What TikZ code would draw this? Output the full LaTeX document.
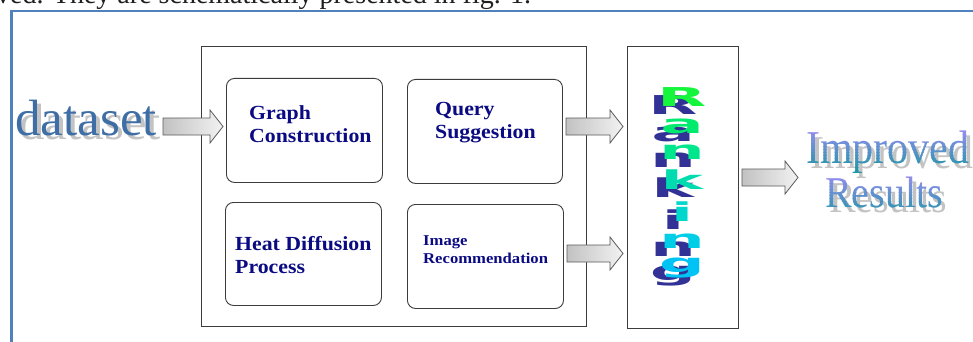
\documentclass[tikz,border=0pt]{standalone}
\usepackage{fontspec}
\setmainfont{Liberation Serif}
\newfontfamily\rankfont{DejaVu Sans}
\usetikzlibrary{calc}
\definecolor{framebl}{RGB}{79,129,189}
\definecolor{boxtxt}{RGB}{10,10,130}
\definecolor{edgecol}{RGB}{60,60,60}
\definecolor{dsblue}{RGB}{62,110,165}
\definecolor{shad}{RGB}{195,195,195}
\definecolor{rkshadow}{RGB}{50,50,150}
\definecolor{gradtop}{RGB}{150,140,240}
\definecolor{gradbot}{RGB}{30,150,165}
\definecolor{arrline}{RGB}{90,90,90}
\definecolor{rk1}{RGB}{20,245,60}
\definecolor{rk2}{RGB}{0,235,110}
\definecolor{rk3}{RGB}{0,230,140}
\definecolor{rk4}{RGB}{0,220,175}
\definecolor{rk5}{RGB}{0,215,205}
\definecolor{rk6}{RGB}{0,205,230}
\definecolor{rk7}{RGB}{0,195,245}
\tikzset{
  procbox/.style={draw=edgecol, line width=0.9pt, rounded corners=8pt, inner sep=0pt, anchor=north west},
  panel/.style={draw=edgecol, line width=0.9pt, inner sep=0pt, anchor=north west},
  boxlabel/.style={anchor=base west, inner sep=0pt, text=boxtxt, font=\fontsize{20}{22}\selectfont\bfseries},
  smalllabel/.style={anchor=base west, inner sep=0pt, text=boxtxt, font=\fontsize{15}{18}\selectfont\bfseries},
  rkletter/.style={inner sep=0pt, font=\fontsize{26}{26}\selectfont\rankfont\bfseries},
  blockarrow/.style={draw=arrline, line width=0.8pt, left color=black!24, right color=black!5},
  bigword/.style={anchor=base west, inner sep=0pt},
}
\newcommand{\blockarrow}[2]{%
  \path[blockarrow] let \p1=(#1), \p2=(#2) in
    (\x1,\y1+8.5pt) -- (\x2-13pt,\y1+8.5pt) -- (\x2-13pt,\y1+16.5pt) -- (\x2,\y1)
    -- (\x2-13pt,\y1-16.5pt) -- (\x2-13pt,\y1-8.5pt) -- (\x1,\y1-8.5pt) -- cycle;}
\begin{document}
\begin{tikzpicture}[x=1pt,y=-1pt]
\useasboundingbox (0,0) rectangle (973,342);
\clip (0,0) rectangle (973,342);
\fill[white] (0,0) rectangle (973,342);
% text above frame
\node[bigword, text=black!88, font=\fontsize{28}{28}\selectfont] (toptext) at (-4,3.5) {ved. They are schematically presented in fig. 1.};
% blue frame
\draw[framebl, line width=2.5pt] (11.5,400) -- (11.5,11) -- (1000,11);
% panels
\node[panel, minimum width=385, minimum height=280] (panel) at (201,46) {};
\node[panel, minimum width=111, minimum height=282] (rank) at (627,46) {};
% process boxes
\node[procbox, minimum width=156, minimum height=104] (gc) at (226,78) {};
\node[procbox, minimum width=155, minimum height=104] (qs) at (407,79) {};
\node[procbox, minimum width=156, minimum height=103] (hd) at (225,202) {};
\node[procbox, minimum width=156, minimum height=104] (ir) at (407,204) {};
\node[boxlabel] (gc1) at (249,120) {\scalebox{1.09}[1]{Graph}};
\node[boxlabel] (gc2) at (249,142) {\scalebox{1.09}[1]{Construction}};
\node[boxlabel] (qs1) at (435,115) {\scalebox{1.09}[1]{Query}};
\node[boxlabel] (qs2) at (435,138) {\scalebox{1.09}[1]{Suggestion}};
\node[boxlabel] (hd1) at (235,250) {\scalebox{1.09}[1]{Heat Diffusion}};
\node[boxlabel] (hd2) at (235,273) {\scalebox{1.09}[1]{Process}};
\node[smalllabel] (ir1) at (423,245) {\scalebox{1.11}[1]{Image}};
\node[smalllabel] (ir2) at (423,263) {\scalebox{1.11}[1]{Recommendation}};
% dataset
\node[bigword, text=shad, font=\fontsize{51}{51}\selectfont] (dsshadow) at (19,139) {dataset};
\node[bigword, text=dsblue, font=\fontsize{51}{51}\selectfont] (dataset) at (15,135) {dataset};
% arrows
\coordinate (a1s) at (163,126.5); \coordinate (a1e) at (223,126.5);
\coordinate (a2s) at (566,126.5); \coordinate (a2e) at (623,126.5);
\coordinate (a3s) at (567,253.5); \coordinate (a3e) at (623,253.5);
\coordinate (a4s) at (742,177.5); \coordinate (a4e) at (798,177.5);
\blockarrow{a1s}{a1e}
\blockarrow{a2s}{a2e}
\blockarrow{a3s}{a3e}
\blockarrow{a4s}{a4e}
% Ranking letters
\foreach \ch/\yy/\cc [count=\k] in {R/97/rk1, a/126.5/rk2, n/152.5/rk3, k/180/rk4, i/212/rk5, n/241.5/rk6, g/268.5/rk7} {
  \node[rkletter, text=rkshadow] (rs\k) at (673,\yy+8) {\scalebox{2.45}[1]{\ch}};
  \node[rkletter, text=\cc] (rf\k) at (682,\yy) {\scalebox{2.45}[1]{\ch}};
}
% Improved Results
\node[bigword, text=shad, font=\fontsize{42}{42}\selectfont] (impshadow) at (810,168) {\scalebox{1}[1.12]{Improved}};
\node[bigword, text=shad, font=\fontsize{40}{40}\selectfont] (resshadow) at (829,212) {\scalebox{1}[1.1]{Results}};
\foreach \i in {0,...,14} {
  \pgfmathsetmacro{\pc}{100-\i*100/14}
  \colorlet{bandcol}{gradtop!\pc!gradbot}
  \begin{scope}
    \clip (790,128+\i*3) rectangle (973,131.4+\i*3);
    \node[bigword, text=bandcol, font=\fontsize{42}{42}\selectfont] (imp\i) at (806,163) {\scalebox{1}[1.12]{Improved}};
  \end{scope}
  \begin{scope}
    \clip (790,174+\i*3) rectangle (973,177.4+\i*3);
    \node[bigword, text=bandcol, font=\fontsize{40}{40}\selectfont] (res\i) at (825,207) {\scalebox{1}[1.1]{Results}};
  \end{scope}
}
\end{tikzpicture}
\end{document}
